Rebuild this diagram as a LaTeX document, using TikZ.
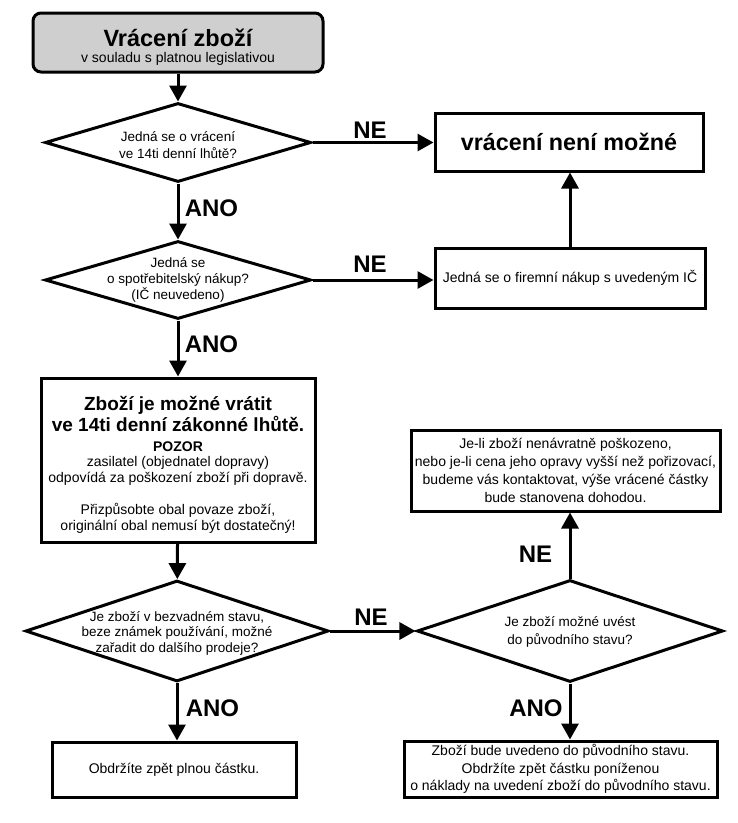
\documentclass[tikz,border=0pt]{standalone}
\usepackage{fontspec}
\setmainfont{Liberation Sans}
\usetikzlibrary{shapes.geometric,arrows.meta}

\begin{document}
\begin{tikzpicture}[x=1pt,y=-1pt,line width=3pt,
  >={Triangle[length=16pt,width=17pt]},
  box/.style={draw,rectangle,inner sep=0pt,align=center,font=\fontsize{14}{17}\selectfont},
  dia/.style={draw,diamond,inner sep=0pt},
  dtext/.style={align=center,font=\fontsize{13.5}{16.5}\selectfont},
  answer/.style={font=\fontsize{24}{28}\bfseries}]
\useasboundingbox (0,0) rectangle (738,823);
\node [box,rounded corners=8pt,fill=black!19,minimum width=290pt,minimum height=59pt] (start) at (178,42.5) {};
\node (title) at (178,37.5) {\fontsize{23.5}{26}\bfseries Vrácení zboží};
\node (subtitle) at (178,58.5) {\fontsize{14}{16}\selectfont v souladu s platnou legislativou};
\node [dia,minimum width=266pt,minimum height=79pt] (q1) at (178,142.5) {};
\node [dtext] (q1t) at (178,145) {Jedná se o vrácení\\ve 14ti denní lhůtě?};
\node [box,minimum width=268pt,minimum height=58pt,font=\fontsize{23.3}{26}\bfseries] (notok) at (569,142) {vrácení není možné};
\node [dia,minimum width=266pt,minimum height=78pt] (q2) at (178,280) {};
\node [dtext,font=\fontsize{13.5}{16}\selectfont] (q2t) at (178,280) {Jedná se\\o spotřebitelský nákup?\\(IČ neuvedeno)};
\node [box,minimum width=270pt,minimum height=60pt] (firm) at (570,278) {Jedná se o firemní nákup s uvedeným IČ};
\node [box,minimum width=274pt,minimum height=164pt] (accept) at (178,460) {};
\node [align=center,font=\fontsize{19}{21}\bfseries] (accepttitle) at (178,414) {Zboží je možné vrátit\\ve 14ti denní zákonné lhůtě.};
\node [align=center,font=\fontsize{14}{15.5}\selectfont] (warning) at (178,463.5) {{\bfseries POZOR}\\zasilatel (objednatel dopravy)\\odpovídá za poškození zboží při dopravě.};
\node [align=center,font=\fontsize{14}{15.5}\selectfont] (packing) at (178,518.5) {Přizpůsobte obal povaze zboží,\\originální obal nemusí být dostatečný!};
\node [box,minimum width=309pt,minimum height=81pt,font=\fontsize{14}{18}\selectfont] (damaged) at (565.5,470.5) {Je-li zboží nenávratně poškozeno,\\nebo je-li cena jeho opravy vyšší než pořizovací,\\budeme vás kontaktovat, výše vrácené částky\\bude stanovena dohodou.};
\node [dia,minimum width=303pt,minimum height=101pt] (q3) at (177,631) {};
\node [dtext,font=\fontsize{13.5}{15.5}\selectfont] (q3t) at (177,633) {Je zboží v bezvadném stavu,\\beze známek používání, možné\\zařadit do dalšího prodeje?};
\node [dia,minimum width=306pt,minimum height=102pt] (q4) at (570,631) {};
\node [dtext,font=\fontsize{13.5}{17.3}\selectfont] (q4t) at (570,632) {Je zboží možné uvést\\do původního stavu?};
\node [box,minimum width=244pt,minimum height=55pt] (full) at (174,769.5) {Obdržíte zpět plnou částku.};
\node [box,minimum width=313pt,minimum height=56pt,font=\fontsize{14}{17.5}\selectfont] (reduced) at (560.5,769) {Zboží bude uvedeno do původního stavu.\\Obdržíte zpět částku poníženou\\o náklady na uvedení zboží do původního stavu.};
\draw [->] (start) -- (q1);
\draw [->] (q1) -- (q2);
\draw [->] (q2) -- (accept);
\draw [->] (accept) -- (q3);
\draw [->] (q3.south) -- (q3.south |- full.north);
\draw [->] (q1.east) -- (q1.east -| notok.west);
\draw [->] (q2.east) -- (q2.east -| firm.west);
\draw [->] (firm.north) -- (firm.north |- notok.south);
\draw [->] (q3) -- (q4);
\draw [->] (q4.north) -- (q4.north |- damaged.south);
\draw [->] (q4.south) -- (q4.south |- reduced.north);
\node [answer] (ne1) at (370,130) {NE};
\node [answer] (ano1) at (211.5,208.5) {ANO};
\node [answer] (ne2) at (370,264) {NE};
\node [answer] (ano2) at (211.5,344) {ANO};
\node [answer] (ne3) at (371,617) {NE};
\node [answer] (ne4) at (535.5,554.5) {NE};
\node [answer] (ano3) at (212.5,708.5) {ANO};
\node [answer] (ano4) at (536,708.5) {ANO};
\end{tikzpicture}
\end{document}
